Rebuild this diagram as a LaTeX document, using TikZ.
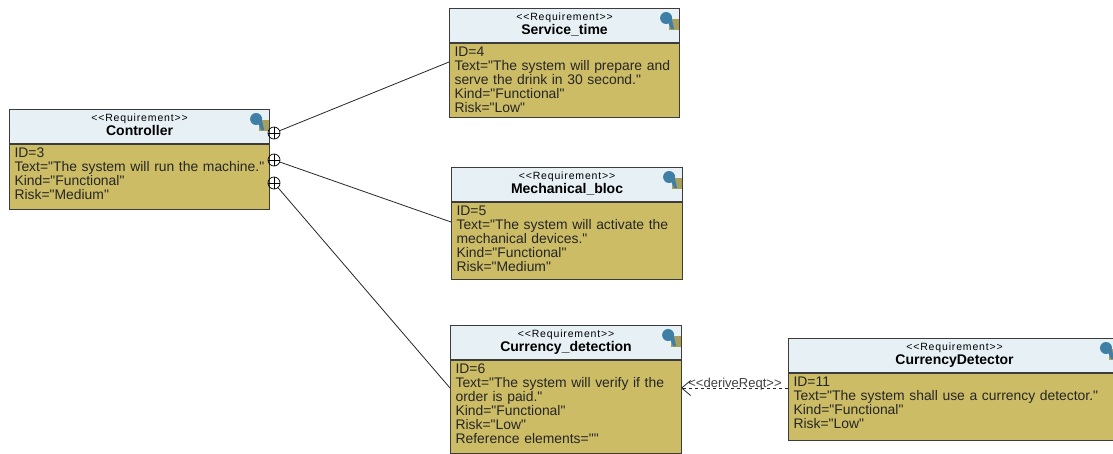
\documentclass[tikz,border=0pt]{standalone}
\usepackage{fontspec}
\setmainfont{Liberation Sans}[Ligatures=TeXOff]
\usetikzlibrary{positioning,arrows.meta}
\definecolor{reqhead}{HTML}{E6F0F5}
\definecolor{reqbody}{HTML}{CCBC65}
\definecolor{reqline}{HTML}{3C3C3C}
\definecolor{iconblue}{HTML}{3F7FA6}
\definecolor{iconolive}{HTML}{A89F5E}
\tikzset{
reqmodel/.style={
    x=1pt,
    y=-1pt,
    node distance=0pt,
    font=\fontsize{13.9}{14}\selectfont
},
reqhead/.style={
    rectangle,
    draw=reqline,
    line width=1.1pt,
    fill=reqhead,
    inner sep=0pt,
    minimum height=34pt,
    anchor=north west,
    align=center
},
reqbody/.style={
    rectangle,
    draw=reqline,
    line width=1.1pt,
    fill=reqbody,
    inner xsep=5pt,
    inner ysep=1pt,
    align=left,
    text=black!85,
    anchor=north west
},
contain/.style={
    circle,
    draw=black,
    line width=0.7pt,
    minimum size=12pt,
    inner sep=0pt,
    path picture={
        \draw[line width=0.7pt] (path picture bounding box.north) -- (path picture bounding box.south);
        \draw[line width=0.7pt] (path picture bounding box.west) -- (path picture bounding box.east);
    }
},
trace/.style={
    draw=black!85,
    line width=0.8pt
},
derive/.style={
    draw=black!85,
    line width=0.8pt,
    dashed,
    -{Straight Barb[length=9pt,width=15pt]}
},
reqicon/.pic={
    \fill[iconolive] (-11,11) rectangle (-1,22);
    \fill[iconblue] (-14,10) circle (6pt);
    \fill[iconblue] (-13,12) -- (-8,12) -- (-6,21) -- (-9,21) -- cycle;
}
}
\newcommand{\stereo}[1]{{\fontsize{10.5}{11}\selectfont\addfontfeature{LetterSpace=8}<<Requirement>>}\\[0pt]{\fontsize{14}{15}\selectfont\bfseries #1\rule[-3pt]{0pt}{3pt}}}
\newcommand{\reqid}[1]{\rule{0pt}{12pt}ID=#1}
\newcommand{\reqend}[1]{\rule[-#1]{0pt}{#1}}
\begin{document}
\begin{tikzpicture}[reqmodel]
\useasboundingbox (0,0) rectangle (1113,453);

% requirements
\node[reqhead, minimum width=260pt] (controller) at (9,109) {\stereo{Controller}};
\node[reqbody, text width=250pt] (controllerb) [below=0pt of controller.south west, anchor=north west]
    {\reqid{3}\\\mbox{Text="The system will run the machine."}\\Kind="Functional"\\Risk="Medium"\reqend{9pt}};

\node[reqhead, minimum width=230pt] (service) at (449,8) {\stereo{Service\_time}};
\node[reqbody, text width=220pt] (serviceb) [below=0pt of service.south west, anchor=north west]
    {\reqid{4}\\\mbox{Text="The system will prepare and}\\serve the drink in 30 second."\\Kind="Functional"\\Risk="Low"\reqend{4pt}};

\node[reqhead, minimum width=231pt] (mechanical) at (451,167) {\stereo{Mechanical\_bloc}};
\node[reqbody, text width=221pt] (mechanicalb) [below=0pt of mechanical.south west, anchor=north west]
    {\reqid{5}\\\mbox{Text="The system will activate the}\\mechanical devices."\\Kind="Functional"\\Risk="Medium"\reqend{7pt}};

\node[reqhead, minimum width=231pt] (detection) at (450,325) {\stereo{Currency\_detection}};
\node[reqbody, text width=221pt] (detectionb) [below=0pt of detection.south west, anchor=north west]
    {\reqid{6}\\\mbox{Text="The system will verify if the}\\order is paid."\\Kind="Functional"\\Risk="Low"\\Reference elements=""\reqend{9pt}};

\node[reqhead, minimum width=332pt] (detector) at (788,338) {\stereo{CurrencyDetector}};
\node[reqbody, text width=322pt] (detectorb) [below=0pt of detector.south west, anchor=north west]
    {\reqid{11}\\\mbox{Text="The system shall use a currency detector."}\\Kind="Functional"\\Risk="Low"\reqend{11pt}};

% icons
\pic at (controller.north east) {reqicon};
\pic at (service.north east) {reqicon};
\pic at (mechanical.north east) {reqicon};
\pic at (detection.north east) {reqicon};
\pic at (1120,338) {reqicon};

% containment
\node[contain] (plusa) at (274,133) {};
\node[contain] (plusb) at (274,160) {};
\node[contain] (plusc) at (274,183) {};
\coordinate (servicein) at (449,62);
\coordinate (mechanicalin) at (451,222);
\coordinate (detectionin) at (450,388);
\draw[trace] (plusa) -- (servicein);
\draw[trace] (plusb) -- (mechanicalin);
\draw[trace] (plusc) -- (detectionin);

% derive
\coordinate (detectorout) at (788,388);
\coordinate (detectionout) at (681,388);
\draw[derive] (detectorout) -- (detectionout);
\node[font=\fontsize{13}{14}\selectfont, text=black!75, inner sep=0pt] (derivelabel) at (735,384) {<<deriveReqt>>};
\end{tikzpicture}
\end{document}
